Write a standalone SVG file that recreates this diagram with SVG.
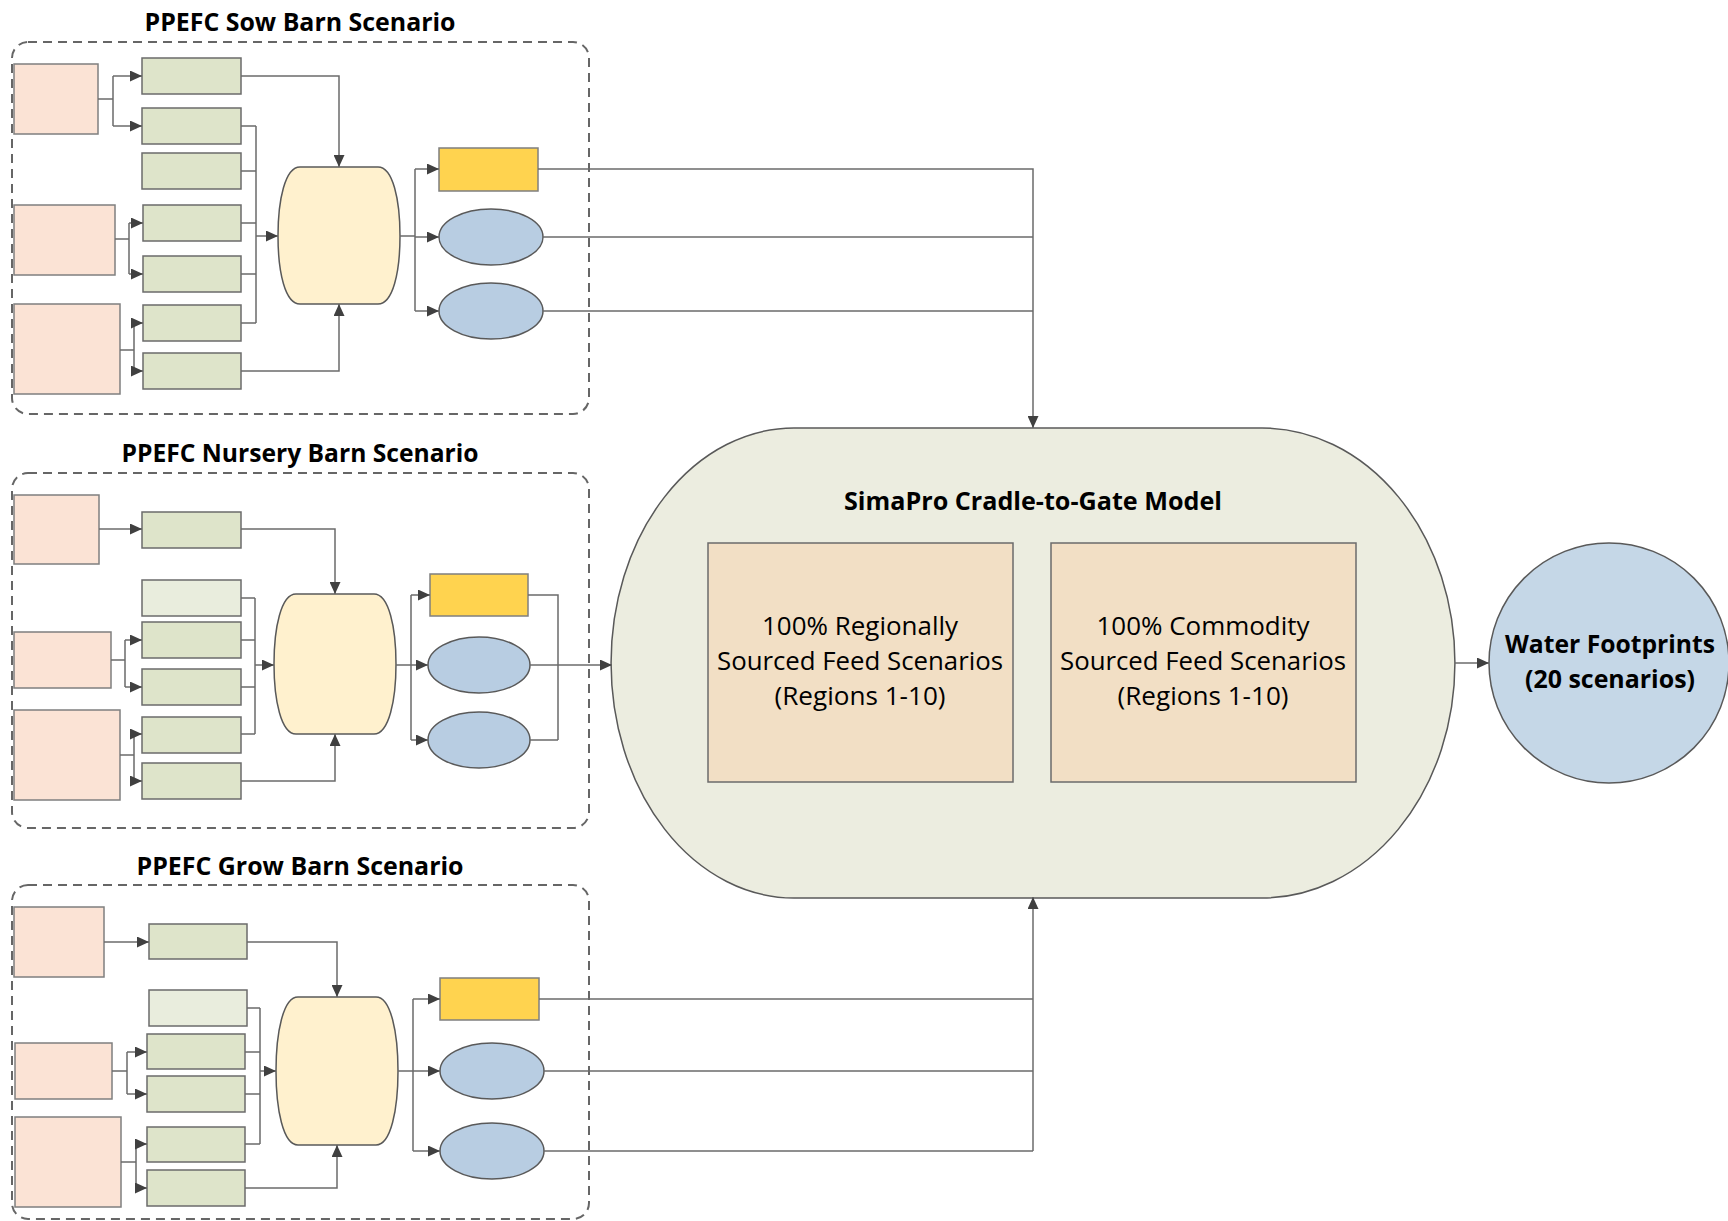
<svg xmlns="http://www.w3.org/2000/svg" width="1728" height="1221" viewBox="0 0 1728 1221">
<defs>
<marker id="ah" markerUnits="userSpaceOnUse" markerWidth="13" markerHeight="11" refX="12" refY="5.5" orient="auto">
<path d="M0,0 L12,5.5 L0,11 Z" fill="#404040"/>
</marker>
<style>
.peach{fill:#FBE3D5;stroke:#7F7F7F;stroke-width:1.5}
.green{fill:#DEE4CA;stroke:#6B6B6B;stroke-width:1.5}
.lgreen{fill:#E9EDDD;stroke:#6B6B6B;stroke-width:1.5}
.cream{fill:#FFF1CE;stroke:#595959;stroke-width:1.5}
.gold{fill:#FFD34F;stroke:#7F7F7F;stroke-width:1.5}
.blue{fill:#B8CDE2;stroke:#595959;stroke-width:1.5}
.dash{fill:none;stroke:#666;stroke-width:2;stroke-dasharray:9 6}
.ln{fill:none;stroke:#6B6B6B;stroke-width:1.5}
.ar{fill:none;stroke:#6B6B6B;stroke-width:1.5;marker-end:url(#ah)}
.title{font-family:"Open Sans","Noto Sans",sans-serif;font-weight:bold;font-size:25px;fill:#000;text-anchor:middle}
.body{font-family:"Open Sans","Noto Sans",sans-serif;font-size:26px;fill:#000;text-anchor:middle}
</style>
</defs>

<!-- Sow barn -->
<g id="sow-barn">
<text class="title" x="300" y="31" textLength="311" lengthAdjust="spacingAndGlyphs">PPEFC Sow Barn Scenario</text>
<rect class="dash" x="12" y="42" width="577" height="372" rx="16"/>
<rect class="peach" x="14" y="64" width="84" height="70"/>
<rect class="peach" x="14" y="205" width="101" height="70"/>
<rect class="peach" x="14" y="304" width="106" height="90"/>
<rect class="green" x="142" y="58" width="99" height="36"/>
<rect class="green" x="142" y="108" width="99" height="36"/>
<rect class="green" x="142" y="153" width="99" height="36"/>
<rect class="green" x="143" y="205" width="98" height="36"/>
<rect class="green" x="143" y="256" width="98" height="36"/>
<rect class="green" x="143" y="305" width="98" height="36"/>
<rect class="green" x="143" y="353" width="98" height="36"/>
<path class="cream" d="M300,167 H378 C393,167 400,200 400,236 C400,272 393,304 378,304 H300 C285,304 278,272 278,236 C278,200 285,167 300,167 Z"/>
<rect class="gold" x="439" y="148" width="99" height="43"/>
<ellipse class="blue" cx="491" cy="237" rx="52" ry="28"/>
<ellipse class="blue" cx="491" cy="311" rx="52" ry="28"/>
</g>

<!-- Nursery barn -->
<g id="nursery-barn">
<text class="title" x="300" y="462" textLength="357" lengthAdjust="spacingAndGlyphs">PPEFC Nursery Barn Scenario</text>
<rect class="dash" x="12" y="473" width="577" height="355" rx="16"/>
<rect class="peach" x="14" y="495" width="85" height="69"/>
<rect class="peach" x="14" y="632" width="97" height="56"/>
<rect class="peach" x="14" y="710" width="106" height="90"/>
<rect class="green" x="142" y="512" width="99" height="36"/>
<rect class="lgreen" x="142" y="580" width="99" height="36"/>
<rect class="green" x="142" y="622" width="99" height="36"/>
<rect class="green" x="142" y="669" width="99" height="36"/>
<rect class="green" x="142" y="717" width="99" height="36"/>
<rect class="green" x="142" y="763" width="99" height="36"/>
<path class="cream" d="M296,594 H374 C389,594 396,628 396,664 C396,700 389,734 374,734 H296 C281,734 274,700 274,664 C274,628 281,594 296,594 Z"/>
<rect class="gold" x="430" y="574" width="98" height="42"/>
<ellipse class="blue" cx="479" cy="665" rx="51" ry="28"/>
<ellipse class="blue" cx="479" cy="740" rx="51" ry="28"/>
</g>

<!-- Grow barn -->
<g id="grow-barn">
<text class="title" x="300" y="875" textLength="327" lengthAdjust="spacingAndGlyphs">PPEFC Grow Barn Scenario</text>
<rect class="dash" x="12" y="885" width="577" height="334" rx="16"/>
<rect class="peach" x="14" y="907" width="90" height="70"/>
<rect class="peach" x="15" y="1043" width="97" height="56"/>
<rect class="peach" x="15" y="1117" width="106" height="90"/>
<rect class="green" x="149" y="924" width="98" height="35"/>
<rect class="lgreen" x="149" y="990" width="98" height="36"/>
<rect class="green" x="147" y="1034" width="98" height="35"/>
<rect class="green" x="147" y="1076" width="98" height="36"/>
<rect class="green" x="147" y="1127" width="98" height="35"/>
<rect class="green" x="147" y="1170" width="98" height="36"/>
<path class="cream" d="M298,997 H376 C391,997 398,1033 398,1071 C398,1109 391,1145 376,1145 H298 C283,1145 276,1109 276,1071 C276,1033 283,997 298,997 Z"/>
<rect class="gold" x="440" y="978" width="99" height="42"/>
<ellipse class="blue" cx="492" cy="1071" rx="52" ry="28"/>
<ellipse class="blue" cx="492" cy="1151" rx="52" ry="28"/>
</g>

<!-- SimaPro model -->
<g id="simapro-model">
<path d="M794,428 H1262 A193 235 0 0 1 1262,898 H794 A183 235 0 0 1 794,428 Z" fill="#ECEDE0" stroke="#595959" stroke-width="1.5"/>
<text class="title" x="1033" y="510" font-size="23" textLength="378" lengthAdjust="spacingAndGlyphs">SimaPro Cradle-to-Gate Model</text>
</g>
<g id="regional-box">
<rect x="708" y="543" width="305" height="239" fill="#F2DFC5" stroke="#6B6B6B" stroke-width="1.5"/>
<text class="body" x="860" y="635" textLength="196" lengthAdjust="spacingAndGlyphs">100% Regionally</text>
<text class="body" x="860" y="670" textLength="286" lengthAdjust="spacingAndGlyphs">Sourced Feed Scenarios</text>
<text class="body" x="860" y="705" textLength="171" lengthAdjust="spacingAndGlyphs">(Regions 1-10)</text>
</g>
<g id="commodity-box">
<rect x="1051" y="543" width="305" height="239" fill="#F2DFC5" stroke="#6B6B6B" stroke-width="1.5"/>
<text class="body" x="1203" y="635" textLength="213" lengthAdjust="spacingAndGlyphs">100% Commodity</text>
<text class="body" x="1203" y="670" textLength="286" lengthAdjust="spacingAndGlyphs">Sourced Feed Scenarios</text>
<text class="body" x="1203" y="705" textLength="171" lengthAdjust="spacingAndGlyphs">(Regions 1-10)</text>
</g>
<g id="water-footprints">
<circle cx="1609" cy="663" r="120" fill="#C5D7E7" stroke="#595959" stroke-width="1.5"/>
<text class="title" x="1610" y="653" font-size="24" textLength="210" lengthAdjust="spacingAndGlyphs">Water Footprints</text>
<text class="title" x="1610" y="688" font-size="24" textLength="170" lengthAdjust="spacingAndGlyphs">(20 scenarios)</text>
</g>

<!-- Connectors -->
<g id="connectors">
<!-- sow -->
<path class="ln" d="M98,99 H113 M113,76 V126"/>
<path class="ar" d="M113,76 H142"/>
<path class="ar" d="M113,126 H142"/>
<path class="ar" d="M241,76 H339 V167"/>
<path class="ln" d="M241,126 H256 M241,171 H256 M241,223 H256 M241,274 H256 M241,323 H256 M256,126 V323"/>
<path class="ar" d="M256,236 H278"/>
<path class="ln" d="M115,239 H129 M129,223 V274"/>
<path class="ar" d="M129,223 H143"/>
<path class="ar" d="M129,274 H143"/>
<path class="ln" d="M120,350 H134 M134,323 V371"/>
<path class="ar" d="M134,323 H143"/>
<path class="ar" d="M134,371 H143"/>
<path class="ar" d="M241,371 H339 V304"/>
<path class="ln" d="M400,236 H415 M415,169 V311"/>
<path class="ar" d="M415,169 H439"/>
<path class="ar" d="M415,237 H439"/>
<path class="ar" d="M415,311 H439"/>
<path class="ar" d="M538,169 H1033 V428"/>
<path class="ln" d="M543,237 H1033 M543,311 H1033"/>
<!-- nursery -->
<path class="ar" d="M99,529 H142"/>
<path class="ar" d="M241,529 H335 V594"/>
<path class="ln" d="M241,598 H255 M241,640 H255 M241,687 H255 M241,734 H255 M255,598 V734"/>
<path class="ar" d="M255,665 H274"/>
<path class="ln" d="M111,660 H125 M125,640 V687"/>
<path class="ar" d="M125,640 H142"/>
<path class="ar" d="M125,687 H142"/>
<path class="ln" d="M120,755 H134 M134,734 V781"/>
<path class="ar" d="M134,734 H142"/>
<path class="ar" d="M134,781 H142"/>
<path class="ar" d="M241,781 H335 V734"/>
<path class="ln" d="M396,665 H411 M411,595 V740"/>
<path class="ar" d="M411,595 H430"/>
<path class="ar" d="M411,665 H428"/>
<path class="ar" d="M411,740 H428"/>
<path class="ln" d="M528,595 H558 V740 M530,740 H558"/>
<path class="ar" d="M530,665 H612"/>
<!-- grow -->
<path class="ar" d="M104,942 H149"/>
<path class="ar" d="M247,942 H337 V997"/>
<path class="ln" d="M247,1008 H260 M245,1052 H260 M245,1094 H260 M245,1144 H260 M260,1008 V1144"/>
<path class="ar" d="M260,1071 H276"/>
<path class="ln" d="M112,1071 H127 M127,1052 V1094"/>
<path class="ar" d="M127,1052 H147"/>
<path class="ar" d="M127,1094 H147"/>
<path class="ln" d="M121,1162 H136 M136,1144 V1188"/>
<path class="ar" d="M136,1144 H147"/>
<path class="ar" d="M136,1188 H147"/>
<path class="ar" d="M245,1188 H337 V1145"/>
<path class="ln" d="M398,1071 H413 M413,999 V1151"/>
<path class="ar" d="M413,999 H440"/>
<path class="ar" d="M413,1071 H440"/>
<path class="ar" d="M413,1151 H440"/>
<path class="ln" d="M539,999 H1033 M544,1071 H1033 M544,1151 H1033"/>
<path class="ar" d="M1033,1151 V897"/>
<!-- output -->
<path class="ar" d="M1455,663 H1489"/>
</g>
</svg>
